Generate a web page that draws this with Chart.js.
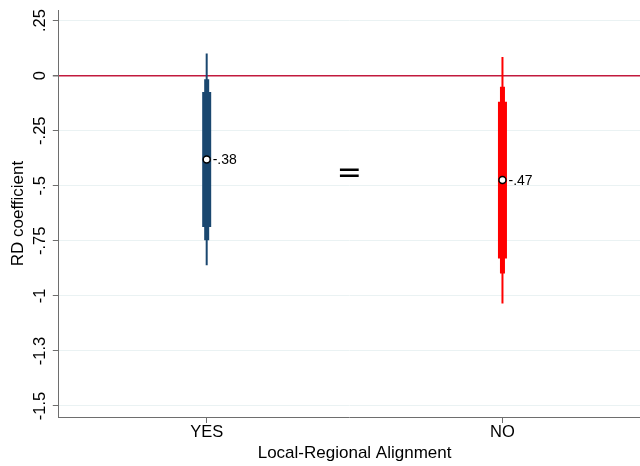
<!DOCTYPE html>
<html>
<head>
<meta charset="utf-8">
<script src="https://cdn.jsdelivr.net/npm/chart.js@4.4.1/dist/chart.umd.min.js"></script>
<style>
  html, body { margin: 0; padding: 0; background: #fff; overflow: hidden; }
  #wrap { width: 640px; height: 466px; }
  canvas { display: block; }
</style>
</head>
<body>
<div id="wrap"><canvas id="myChart" width="640" height="466"></canvas></div>
<script>
// categories and estimates
let categories = ['YES', 'NO'];
let catPos = [1, 2];
let estimates = [-0.381, -0.474];
let estLabels = ['-.38', '-.47'];
// confidence intervals (thin = 99%, medium = 95%, thick = 90%)
let ci99Lo = [-0.861, -1.035];
let ci99Hi = [0.101, 0.085];
let ci95Lo = [-0.747, -0.898];
let ci95Hi = [-0.016, -0.051];
let ci90Lo = [-0.687, -0.830];
let ci90Hi = [-0.074, -0.119];
let colors = ['#1a476f', '#ff0000'];
// y ticks
let yTicks = [0.25, 0, -0.25, -0.5, -0.75, -1, -1.25, -1.5];
let yTickLabels = ['.25', '0', '-.25', '-.5', '-.75', '-1', '-1.3', '-1.5'];
let xTitle = 'Local-Regional Alignment';

const font = "'Liberation Sans', Arial, Helvetica, sans-serif";

let datasets = [];
let levels = [[ci99Lo, ci99Hi, 2], [ci95Lo, ci95Hi, 5], [ci90Lo, ci90Hi, 9]];
for (let l = 0; l < levels.length; l++) {
    for (let i = 0; i < categories.length; i++) {
        datasets.push({
            type: 'line',
            order: 3 - l,
            data: [{x: catPos[i], y: levels[l][0][i]}, {x: catPos[i], y: levels[l][1][i]}],
            borderColor: colors[i],
            borderWidth: levels[l][2],
            borderCapStyle: 'butt',
            pointRadius: 0,
            pointHoverRadius: 0,
            showLine: true
        });
    }
}
datasets.push({
    type: 'scatter',
    order: 0,
    data: catPos.map((p, i) => ({x: p, y: estimates[i]})),
    pointRadius: 3.5,
    pointBackgroundColor: '#ffffff',
    pointBorderColor: '#000000',
    pointBorderWidth: 1.5
});

const extras = {
    id: 'extras',
    afterDraw(chart) {
        const ctx = chart.ctx;
        const xs = chart.scales.x, ys = chart.scales.y;
        ctx.save();
        ctx.fillStyle = '#000';
        // rotated y tick labels
        ctx.font = '16.5px ' + font;
        ctx.textAlign = 'center';
        ctx.textBaseline = 'alphabetic';
        for (let i = 0; i < yTicks.length; i++) {
            ctx.save();
            ctx.translate(44.5, ys.getPixelForValue(yTicks[i]));
            ctx.rotate(-Math.PI / 2);
            ctx.fillText(yTickLabels[i], 0, 0);
            ctx.restore();
        }
        // x axis title, centred between the groups
        ctx.font = '17px ' + font;
        ctx.textBaseline = 'middle';
        ctx.fillText(xTitle, xs.getPixelForValue(1.5), 453);
        // estimate labels
        ctx.font = '14px ' + font;
        ctx.textAlign = 'left';
        for (let i = 0; i < categories.length; i++) {
            ctx.fillText(estLabels[i], xs.getPixelForValue(catPos[i]) + 6, ys.getPixelForValue(estimates[i]) + 1);
        }
        // equality sign between the two groups
        ctx.font = "30px 'DejaVu Sans'";
        ctx.textAlign = 'center';
        ctx.fillText('=', xs.getPixelForValue(1.482), ys.getPixelForValue(-0.448));
        ctx.restore();
    }
};

const ctx = document.getElementById('myChart').getContext('2d');
const myChart = new Chart(ctx, {
    data: { datasets: datasets },
    options: {
        responsive: false,
        animation: false,
        events: [],
        layout: { autoPadding: false, padding: { left: 0, top: 10, right: 0, bottom: 23.2 } },
        plugins: { legend: { display: false }, tooltip: { enabled: false } },
        scales: {
            x: {
                type: 'linear',
                min: 0.5,
                max: 2.465,
                afterBuildTicks: (axis) => { axis.ticks = catPos.map(v => ({value: v})); },
                afterFit: (axis) => { axis.paddingLeft = 0; axis.paddingRight = 0; },
                ticks: {
                    color: '#000',
                    padding: 0,
                    font: { family: font, size: 16.5 },
                    callback: (value) => categories[catPos.indexOf(value)]
                },
                grid: { display: true, drawOnChartArea: false, drawTicks: true, tickLength: 6, tickColor: '#6e6e6e' },
                border: { color: '#6e6e6e', width: 1 }
            },
            y: {
                type: 'linear',
                min: -1.55,
                max: 0.298,
                afterBuildTicks: (axis) => { axis.ticks = yTicks.map(v => ({value: v})); },
                ticks: { display: false },
                grid: {
                    color: (c) => c.tick && c.tick.value === 0 ? '#c21a3e' : '#eaf2f3',
                    lineWidth: (c) => c.tick && c.tick.value === 0 ? 1.5 : 1,
                    tickLength: 6,
                    tickColor: '#6e6e6e'
                },
                border: { color: '#6e6e6e', width: 1 },
                title: {
                    display: true,
                    text: 'RD coefficient',
                    color: '#000',
                    font: { family: font, size: 17 },
                    padding: { top: 8.3, bottom: 24.1 }
                }
            }
        }
    },
    plugins: [extras]
});
</script>
</body>
</html>
